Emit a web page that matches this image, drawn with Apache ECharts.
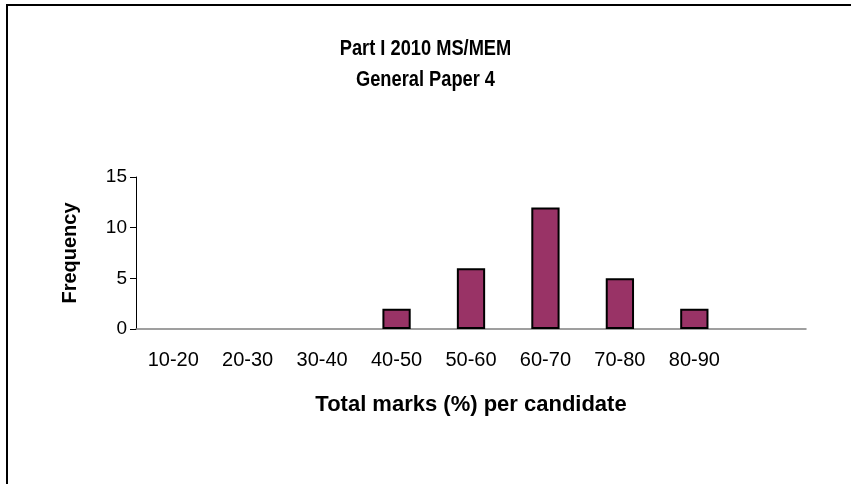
<!DOCTYPE html>
<html>
<head>
<meta charset="utf-8">
<script src="https://cdn.jsdelivr.net/npm/echarts@6/dist/echarts.min.js"></script>
<style>
  html, body { margin: 0; padding: 0; background: #fff; }
  #chart { width: 851px; height: 484px; }
</style>
</head>
<body>
<div id="chart"></div>
<script>
// Mark bands (last band is an empty slot on the axis)
const categories = ['10-20', '20-30', '30-40', '40-50', '50-60', '60-70', '70-80', '80-90', ''];
// Number of candidates in each band
const frequency = [0, 0, 0, 2, 6, 12, 5, 2, 0];
const yTicks = [0, 5, 10, 15];
const titleLines = ['Part I 2010 MS/MEM', 'General Paper 4'];

const font = 'Liberation Sans, Arial, sans-serif';
const chart = echarts.init(document.getElementById('chart'), null, { renderer: 'canvas' });

// Title lines drawn as horizontally condensed bold text
const titleGraphics = titleLines.map((line, i) => ({
  type: 'text',
  x: 425.5,
  y: 49 + i * 31,
  scaleX: 0.83,
  silent: true,
  style: {
    text: line,
    x: 0,
    y: 0,
    align: 'center',
    verticalAlign: 'middle',
    font: 'bold 22px "Liberation Sans", Arial, sans-serif',
    fill: '#000'
  }
}));

chart.setOption({
  backgroundColor: '#ffffff',
  animation: false,
  graphic: [{
    type: 'rect',
    shape: { x: 7, y: 5, width: 900, height: 600 },
    style: { fill: 'none', stroke: '#000', lineWidth: 2 },
    silent: true
  }].concat(titleGraphics),
  grid: { left: 136, right: 45, top: 177, bottom: 155 },
  xAxis: {
    type: 'category',
    data: categories,
    name: 'Total marks (%) per candidate',
    nameLocation: 'middle',
    nameGap: 65,
    nameTextStyle: { fontFamily: font, fontWeight: 'bold', fontSize: 22, color: '#000' },
    axisLine: { lineStyle: { color: '#808080', width: 1.5 } },
    axisTick: { alignWithLabel: false, length: 6, lineStyle: { color: '#000' } },
    axisLabel: { fontFamily: font, fontSize: 20, color: '#000', margin: 21, interval: 0 },
    splitLine: { show: false }
  },
  yAxis: {
    type: 'value',
    min: yTicks[0],
    max: yTicks[yTicks.length - 1],
    interval: 5,
    name: 'Frequency',
    nameLocation: 'middle',
    nameRotate: 90,
    nameGap: 56,
    nameTextStyle: { fontFamily: font, fontWeight: 'bold', fontSize: 20, color: '#000' },
    axisLine: { show: true, lineStyle: { color: '#000', width: 1 } },
    axisTick: { show: true, length: 6, lineStyle: { color: '#000' } },
    axisLabel: { fontFamily: font, fontSize: 19, color: '#000', margin: 9 },
    splitLine: { show: false }
  },
  series: [{
    type: 'bar',
    // empty bands draw no bar at all
    data: frequency.map(v => (v === 0 ? '-' : v)),
    barWidth: '38%',
    itemStyle: { color: '#993366', borderColor: '#000', borderWidth: 2 }
  }]
});
</script>
</body>
</html>
